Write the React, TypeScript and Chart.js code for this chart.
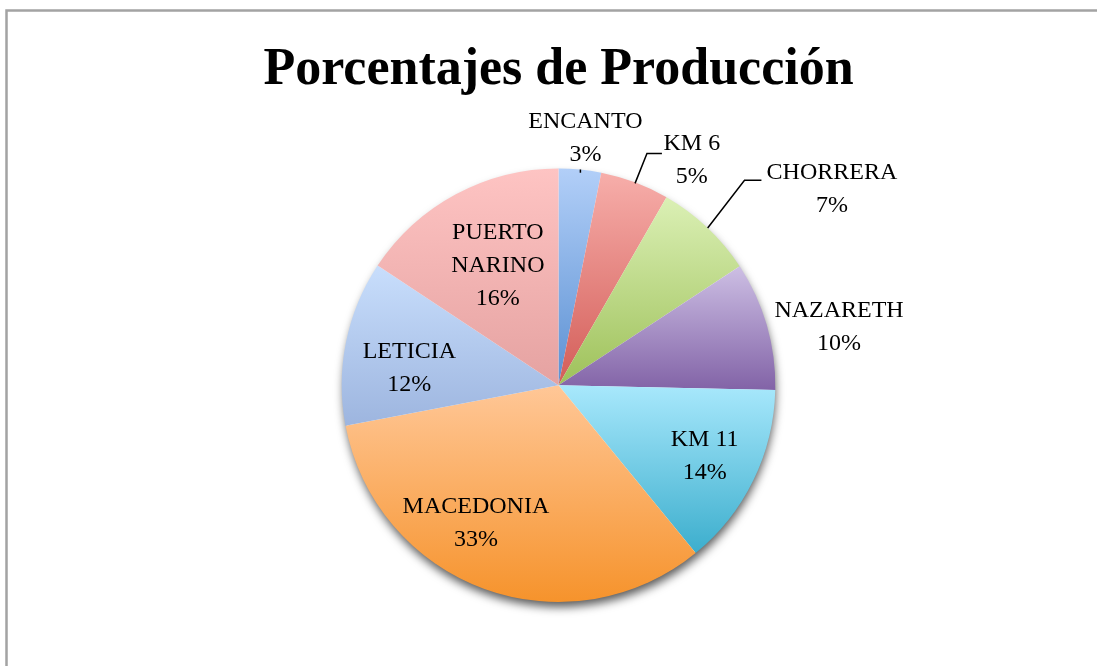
import React, { useEffect, useRef } from "react";
import { Chart, registerables } from "chart.js";

Chart.register(...registerables);

const TITLE = "Porcentajes de Producción";
const categories = ["ENCANTO", "KM 6", "CHORRERA", "NAZARETH", "KM 11", "MACEDONIA", "LETICIA", "PUERTO NARINO"];
const labelLines = [["ENCANTO"], ["KM 6"], ["CHORRERA"], ["NAZARETH"], ["KM 11"], ["MACEDONIA"], ["LETICIA"], ["PUERTO", "NARINO"]];
const productionShare = [3.16, 5.14, 7.45, 9.6, 13.75, 32.9, 12.3, 15.7];
const topColors = ["#b2cff8", "#f7aeaa", "#dbf0b5", "#cdbfe4", "#a8e8fc", "#ffc797", "#c8defc", "#fec4c3"];
const bottomColors = ["#5b90d2", "#d35d58", "#9ec15a", "#8263a7", "#3caecd", "#f6932c", "#9db5df", "#e5a2a1"];

// label layout, in units of the pie radius, relative to the pie centre
const labelOffsets = [
  [0.124, -1.14],
  [0.615, -1.037],
  [1.261, -0.906],
  [1.294, -0.266],
  [0.674, 0.326],
  [-0.381, 0.638],
  [-0.688, -0.08],
  [-0.28, -0.55],
];
// leader lines, in radius units
const leaderLines: { [k: number]: number[][] } = {
  0: [[0.101, -0.995], [0.101, -0.98]],
  1: [[0.353, -0.931], [0.408, -1.069], [0.477, -1.069]],
  2: [[0.688, -0.725], [0.858, -0.945], [0.936, -0.945]],
};

const LABEL_FONT = "24px 'Liberation Serif', 'DejaVu Serif', serif";
const LINE_H = 33;

function sectorYRange(cy: number, r: number, a0: number, a1: number) {
  const ys = [cy, cy + r * Math.sin(a0), cy + r * Math.sin(a1)];
  for (const a of [-Math.PI / 2, Math.PI / 2, (3 * Math.PI) / 2]) {
    if (a > a0 && a < a1) ys.push(cy + r * Math.sin(a));
  }
  return [Math.min(...ys), Math.max(...ys)];
}

const borderPlugin = {
  id: "frameBorder",
  beforeDraw(chart: any) {
    const ctx = chart.ctx;
    ctx.save();
    ctx.fillStyle = "#ffffff";
    ctx.fillRect(0, 0, chart.width, chart.height);
    ctx.strokeStyle = "#a3a3a3";
    ctx.lineWidth = 2.5;
    ctx.strokeRect(6.5, 10.5, 1300, 900);
    ctx.restore();
  },
};

const shadowPlugin = {
  id: "pieShadow",
  beforeDatasetsDraw(chart: any) {
    const meta = chart.getDatasetMeta(0);
    const arc = meta.data[0];
    if (!arc) return;
    const ctx = chart.ctx;
    ctx.save();
    ctx.shadowColor = "rgba(0,0,0,0.65)";
    ctx.shadowBlur = 10;
    ctx.shadowOffsetX = 1;
    ctx.shadowOffsetY = 6;
    ctx.fillStyle = "#ffffff";
    ctx.beginPath();
    ctx.arc(arc.x, arc.y, arc.outerRadius - 1, 0, Math.PI * 2);
    ctx.fill();
    ctx.restore();
  },
};

const labelPlugin = {
  id: "sliceLabels",
  afterDatasetsDraw(chart: any) {
    const meta = chart.getDatasetMeta(0);
    const ctx = chart.ctx;
    const total = productionShare.reduce((a, b) => a + b, 0);
    ctx.save();
    ctx.font = LABEL_FONT;
    ctx.fillStyle = "#000000";
    ctx.textAlign = "center";
    ctx.textBaseline = "middle";
    meta.data.forEach((arc: any, i: number) => {
      const cx = arc.x;
      const cy = arc.y;
      const R = arc.outerRadius;
      const pct = Math.round((productionShare[i] / total) * 100);
      const lines = [...labelLines[i], pct + "%"];
      const px = cx + labelOffsets[i][0] * R;
      const py = cy + labelOffsets[i][1] * R;
      lines.forEach((t, k) => {
        ctx.fillText(t, px, py + (k - (lines.length - 1) / 2) * LINE_H);
      });
      const lead = leaderLines[i];
      if (lead) {
        ctx.strokeStyle = "#000000";
        ctx.lineWidth = 1.5;
        ctx.beginPath();
        lead.forEach((p, k) => {
          const x = cx + p[0] * R;
          const y = cy + p[1] * R;
          if (k === 0) ctx.moveTo(x, y);
          else ctx.lineTo(x, y);
        });
        ctx.stroke();
      }
    });
    ctx.restore();
  },
};

export default function App() {
  const ref = useRef<HTMLCanvasElement | null>(null);

  useEffect(() => {
    if (!ref.current) return;
    const total = productionShare.reduce((a, b) => a + b, 0);
    const chart = new Chart(ref.current, {
      type: "pie",
      data: {
        labels: categories,
        datasets: [
          {
            data: productionShare,
            borderWidth: 0,
            backgroundColor: (c: any) => {
              const i = c.dataIndex;
              const area = c.chart.chartArea;
              if (!area || i === undefined) return topColors[i ?? 0];
              const cy = (area.top + area.bottom) / 2;
              const r = Math.min(area.right - area.left, area.bottom - area.top) / 2;
              let before = 0;
              for (let k = 0; k < i; k++) before += productionShare[k];
              const a0 = -Math.PI / 2 + (before / total) * Math.PI * 2;
              const a1 = a0 + (productionShare[i] / total) * Math.PI * 2;
              const [y0, y1] = sectorYRange(cy, r, a0, a1);
              const g = c.chart.ctx.createLinearGradient(0, y0, 0, y1);
              g.addColorStop(0, topColors[i]);
              g.addColorStop(1, bottomColors[i]);
              return g;
            },
          },
        ],
      },
      options: {
        responsive: false,
        animation: false,
        layout: { padding: { left: 20, right: 0, top: 0, bottom: 64 } },
        plugins: {
          legend: { display: false },
          tooltip: { enabled: false },
          title: {
            display: true,
            text: TITLE,
            color: "#000000",
            font: { family: "'Liberation Serif', 'DejaVu Serif', serif", size: 52, weight: "bold" },
            padding: { top: 39, bottom: 67 },
          },
        },
      },
      plugins: [borderPlugin, shadowPlugin, labelPlugin],
    });
    return () => chart.destroy();
  }, []);

  return (
    <div style={{ position: "absolute", left: 0, top: 0, width: 1097, height: 666, overflow: "hidden" }}>
      <canvas ref={ref} width={1097} height={666} style={{ display: "block" }} />
    </div>
  );
}
